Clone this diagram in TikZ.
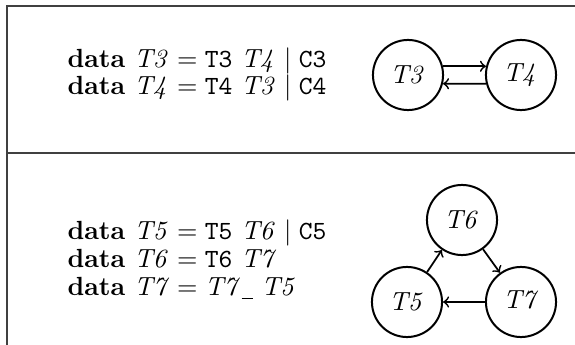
\documentclass[tikz,border=0pt]{standalone}
\newcommand{\lowbar}{\kern0.04em\rule[-1.2pt]{0.42em}{0.5pt}}
\begin{document}
\begin{tikzpicture}[x=0.4pt,y=-0.4pt,
  frame/.style={line width=0.8pt, draw=black!75},
  tnode/.style={circle, draw, line width=0.8pt, minimum size=26.7pt, inner sep=0pt, scale=1.05},
  link/.style={->, line width=0.7pt},
  code/.style={anchor=base west, inner sep=0pt, scale=1.05}]
\useasboundingbox (0,0) rectangle (575,345);
% frame
\coordinate (fbl) at (7,350);
\coordinate (ftl) at (7,6);
\coordinate (ftr) at (580,6);
\coordinate (fml) at (7,153);
\coordinate (fmr) at (580,153);
\draw[frame] (fbl) -- (ftl) -- (ftr);
\draw[frame] (fml) -- (fmr);
% top code
\node[code] (l1) at (67,68) {\textbf{data} $\mathit{T3} = \mathtt{T3}\ \mathit{T4} \mid \mathtt{C3}$};
\node[code] (l2) at (67,95) {\textbf{data} $\mathit{T4} = \mathtt{T4}\ \mathit{T3} \mid \mathtt{C4}$};
% top graph
\node[tnode] (T3) at (408,75) {$\mathit{T3}$};
\node[tnode] (T4) at (521,75) {$\mathit{T4}$};
\draw[link] (T3.14) -- (T4.166);
\draw[link] (T4.-166) -- (T3.-14);
% bottom code
\node[code] (l3) at (67,240) {\textbf{data} $\mathit{T5} = \mathtt{T5}\ \mathit{T6} \mid \mathtt{C5}$};
\node[code] (l4) at (67,268) {\textbf{data} $\mathit{T6} = \mathtt{T6}\ \mathit{T7}$};
\node[code] (l5) at (67,296) {\textbf{data} $\mathit{T7} = \mathit{T7}\mbox{\lowbar}\ \mathit{T5}$};
% bottom graph
\node[tnode] (T6) at (462,220) {$\mathit{T6}$};
\node[tnode] (T5) at (407,302) {$\mathit{T5}$};
\node[tnode] (T7) at (521,302) {$\mathit{T7}$};
\draw[link] (T5) -- (T6);
\draw[link] (T6) -- (T7);
\draw[link] (T7) -- (T5);
\end{tikzpicture}
\end{document}
